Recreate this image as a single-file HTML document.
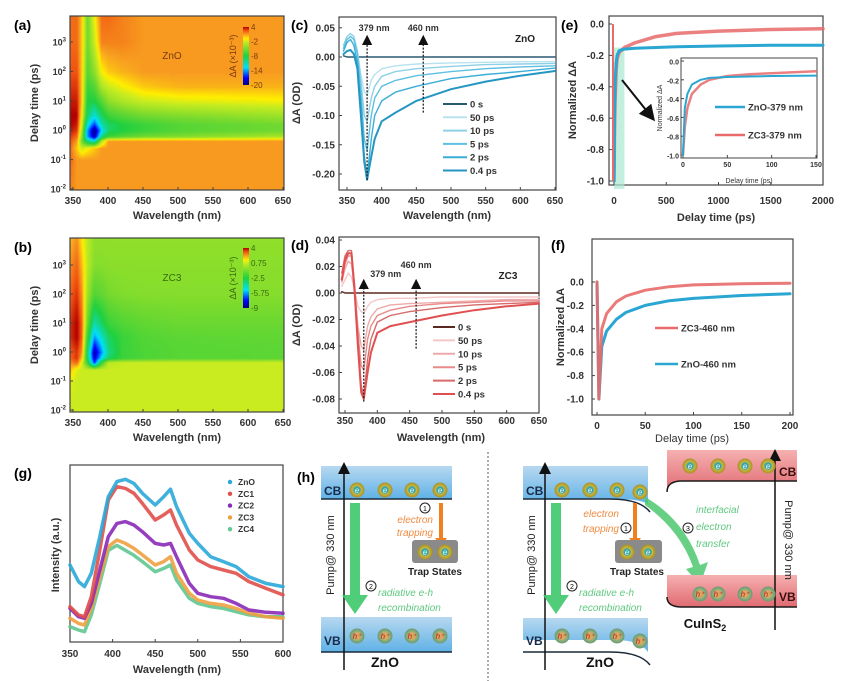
<!DOCTYPE html>
<html><head><meta charset="utf-8">
<style>
html,body{margin:0;padding:0;background:#fff;width:845px;height:681px;overflow:hidden;}
#wrap{position:relative;width:845px;height:681px;}
svg text{font-family:"Liberation Sans",Arial,sans-serif;}
canvas{position:absolute;}
</style></head>
<body>
<div id="wrap">
<canvas id="hmA" style="left:70px;top:16px" width="214" height="174"></canvas>
<canvas id="hmB" style="left:70px;top:238px" width="214" height="174"></canvas>
<svg id="fig" width="845" height="681" style="position:absolute;left:0;top:0" xmlns="http://www.w3.org/2000/svg">
<defs>
<linearGradient id="cbar" x1="0" y1="1" x2="0" y2="0">
<stop offset="0" stop-color="#000080"/><stop offset="0.12" stop-color="#0000ff"/><stop offset="0.3" stop-color="#00e0ff"/><stop offset="0.5" stop-color="#20d040"/><stop offset="0.75" stop-color="#c8ec20"/><stop offset="0.8" stop-color="#ffee00"/><stop offset="0.87" stop-color="#f8a020"/><stop offset="0.94" stop-color="#f05010"/><stop offset="1" stop-color="#b00000"/>
</linearGradient>
<linearGradient id="znoBand" x1="0" y1="0" x2="0" y2="1"><stop offset="0" stop-color="#b7d8f0"/><stop offset="1" stop-color="#5fb2e6"/></linearGradient>
<linearGradient id="cisBand" x1="0" y1="0" x2="0" y2="1"><stop offset="0" stop-color="#f6b0b0"/><stop offset="1" stop-color="#e06a72"/></linearGradient>
<radialGradient id="eBall"><stop offset="0.45" stop-color="#3aa8a8"/><stop offset="0.55" stop-color="#c8b840"/><stop offset="1" stop-color="#a89028"/></radialGradient>
<radialGradient id="hBall"><stop offset="0.45" stop-color="#d8a860"/><stop offset="0.6" stop-color="#90b080"/><stop offset="1" stop-color="#6a9a70"/></radialGradient>
<marker id="ah" markerWidth="8" markerHeight="8" refX="4" refY="4" orient="auto"><path d="M0,0 L8,4 L0,8 z" fill="#111"/></marker>
</defs>
<g id="layer"></g>

<!-- static text -->
<text x="14" y="30" font-size="14" font-weight="bold">(a)</text>
<text x="14" y="252" font-size="14" font-weight="bold">(b)</text>
<text x="291" y="30" font-size="14" font-weight="bold">(c)</text>
<text x="291" y="250" font-size="14" font-weight="bold">(d)</text>
<text x="561" y="30" font-size="14" font-weight="bold">(e)</text>
<text x="551" y="250" font-size="14" font-weight="bold">(f)</text>
<text x="14" y="478" font-size="14" font-weight="bold">(g)</text>
<text x="297" y="482" font-size="14" font-weight="bold">(h)</text>

<text x="177" y="219" font-size="11" font-weight="bold" text-anchor="middle" fill="#333">Wavelength (nm)</text>
<text x="177" y="441" font-size="11" font-weight="bold" text-anchor="middle" fill="#333">Wavelength (nm)</text>
<text transform="translate(38,103) rotate(-90)" font-size="11" font-weight="bold" text-anchor="middle" fill="#333">Delay time (ps)</text>
<text transform="translate(38,325) rotate(-90)" font-size="11" font-weight="bold" text-anchor="middle" fill="#333">Delay time (ps)</text>
<text x="172" y="59" font-size="10" fill="#7a3a10" text-anchor="middle">ZnO</text>
<text x="172" y="281" font-size="10" fill="#3a6a10" text-anchor="middle">ZC3</text>
<text transform="translate(236,56) rotate(-90)" font-size="9" fill="#7a3a10" text-anchor="middle">ΔA (×10⁻³)</text>
<text transform="translate(236,278) rotate(-90)" font-size="9" fill="#3a6a10" text-anchor="middle">ΔA (×10⁻³)</text>

<text x="447" y="219" font-size="11" font-weight="bold" text-anchor="middle" fill="#333">Wavelength (nm)</text>
<text transform="translate(300,103) rotate(-90)" font-size="11" font-weight="bold" text-anchor="middle" fill="#333">ΔA (OD)</text>
<text x="525" y="42" font-size="10" font-weight="bold" text-anchor="middle" fill="#222">ZnO</text>
<text x="441" y="441" font-size="11" font-weight="bold" text-anchor="middle" fill="#333">Wavelength (nm)</text>
<text transform="translate(300,325) rotate(-90)" font-size="11" font-weight="bold" text-anchor="middle" fill="#333">ΔA (OD)</text>
<text x="508" y="279" font-size="10" font-weight="bold" text-anchor="middle" fill="#222">ZC3</text>

<text x="716" y="221" font-size="11" font-weight="bold" text-anchor="middle" fill="#333">Delay time (ps)</text>
<text transform="translate(576,100) rotate(-90)" font-size="11" font-weight="bold" text-anchor="middle" fill="#333">Normalized ΔA</text>
<text x="749" y="183" font-size="7" text-anchor="middle" fill="#333">Delay time (ps)</text>
<text transform="translate(662,108) rotate(-90)" font-size="7" text-anchor="middle" fill="#333">Normalized ΔA</text>
<text x="692" y="442" font-size="11" text-anchor="middle" fill="#333">Delay time (ps)</text>
<text transform="translate(564,327) rotate(-90)" font-size="11" font-weight="bold" text-anchor="middle" fill="#333">Normalized ΔA</text>

<text x="177" y="673" font-size="11" font-weight="bold" text-anchor="middle" fill="#333">Wavelength (nm)</text>
<text transform="translate(59,555) rotate(-90)" font-size="11" font-weight="bold" text-anchor="middle" fill="#333">Intensity (a.u.)</text>
<line x1="622" y1="80" x2="650" y2="115" stroke="#111" stroke-width="2" marker-end="url(#ah)"/>

<!-- panel h -->
<g id="diagram">
<rect x="321" y="466" width="131" height="33" fill="url(#znoBand)"/>
<line x1="321" y1="499" x2="452" y2="499" stroke="#1a2a3a" stroke-width="1.5"/>
<rect x="321" y="617" width="131" height="35" fill="url(#znoBand)"/>
<line x1="321" y1="652" x2="452" y2="652" stroke="#1a2a3a" stroke-width="1.5"/>
<text x="324" y="495" font-size="12" font-weight="bold" fill="#1a2a4a">CB</text>
<text x="324" y="645" font-size="12" font-weight="bold" fill="#1a2a4a">VB</text>
<line x1="344" y1="670" x2="344" y2="468" stroke="#111" stroke-width="1.5" marker-end="url(#ah)"/>
<text transform="translate(334,555) rotate(-90)" font-size="11" text-anchor="middle" fill="#222">Pump@ 330 nm</text>
<text x="385" y="667" font-size="14" font-weight="bold" text-anchor="middle" fill="#111">ZnO</text>
<path d="M350,503 L360,503 L360,595 L368,595 L355,614 L342,595 L350,595 Z" fill="#3cc86a" opacity="0.9"/>
<path d="M439,503 L443,503 L443,538 L447,538 L441,546 L435,538 L439,538 Z" fill="#f08020"/>
<rect x="412" y="540" width="46" height="23" rx="3" fill="#8a8a8a"/>
<text x="435" y="575" font-size="10" font-weight="bold" text-anchor="middle" fill="#222">Trap States</text>
<circle cx="425" cy="508" r="5" fill="none" stroke="#222" stroke-width="1"/><text x="425" y="511" font-size="7" text-anchor="middle">1</text>
<text x="433" y="523" font-size="10" font-style="italic" text-anchor="end" fill="#f08a40">electron</text>
<text x="433" y="536" font-size="10" font-style="italic" text-anchor="end" fill="#f08a40">trapping</text>
<circle cx="371" cy="586" r="5" fill="none" stroke="#222" stroke-width="1"/><text x="371" y="589" font-size="7" text-anchor="middle">2</text>
<text x="378" y="596" font-size="10" font-style="italic" fill="#60c880">radiative e-h</text>
<text x="378" y="611" font-size="10" font-style="italic" fill="#60c880">recombination</text>

<line x1="488" y1="452" x2="488" y2="681" stroke="#555" stroke-dasharray="2,2"/>

<path d="M523,466 L648,466 L648,504 Q640,499 615,499 L523,499 Z" fill="url(#znoBand)"/>
<path d="M523,499 L610,499 Q640,499 650,512" fill="none" stroke="#1a2a3a" stroke-width="1.5"/>
<path d="M523,618 L648,618 L648,652 Q640,640 615,640 L523,640 Z" fill="url(#znoBand)"/>
<path d="M523,652 L610,652 Q640,652 650,665" fill="none" stroke="#1a2a3a" stroke-width="1.5"/>
<text x="526" y="495" font-size="12" font-weight="bold" fill="#1a2a4a">CB</text>
<text x="526" y="645" font-size="12" font-weight="bold" fill="#1a2a4a">VB</text>
<line x1="545" y1="670" x2="545" y2="468" stroke="#111" stroke-width="1.5" marker-end="url(#ah)"/>
<text transform="translate(535,555) rotate(-90)" font-size="11" text-anchor="middle" fill="#222">Pump@ 330 nm</text>
<text x="600" y="667" font-size="14" font-weight="bold" text-anchor="middle" fill="#111">ZnO</text>
<path d="M551,503 L561,503 L561,595 L569,595 L556,614 L543,595 L551,595 Z" fill="#3cc86a" opacity="0.9"/>
<path d="M633,503 L637,503 L637,538 L641,538 L635,546 L629,538 L633,538 Z" fill="#f08020"/>
<rect x="615" y="540" width="47" height="23" rx="3" fill="#8a8a8a"/>
<text x="637" y="575" font-size="10" font-weight="bold" text-anchor="middle" fill="#222">Trap States</text>
<text x="619" y="517" font-size="10" font-style="italic" text-anchor="end" fill="#f08a40">electron</text>
<text x="619" y="532" font-size="10" font-style="italic" text-anchor="end" fill="#f08a40">trapping</text>
<circle cx="626" cy="528" r="5" fill="none" stroke="#222" stroke-width="1"/><text x="626" y="531" font-size="7" text-anchor="middle">1</text>
<circle cx="572" cy="586" r="5" fill="none" stroke="#222" stroke-width="1"/><text x="572" y="589" font-size="7" text-anchor="middle">2</text>
<text x="579" y="596" font-size="10" font-style="italic" fill="#60c880">radiative e-h</text>
<text x="579" y="611" font-size="10" font-style="italic" fill="#60c880">recombination</text>
<path d="M645,497 Q685,520 700,565 L708,562 L700,585 L686,569 L693,567 Q680,530 645,505 Z" fill="#4cc870" opacity="0.85"/>
<circle cx="688" cy="528" r="5" fill="none" stroke="#222" stroke-width="1"/><text x="688" y="531" font-size="7" text-anchor="middle">3</text>
<text x="696" y="513" font-size="10" font-style="italic" fill="#60c880">interfacial</text>
<text x="696" y="530" font-size="10" font-style="italic" fill="#60c880">electron</text>
<text x="696" y="547" font-size="10" font-style="italic" fill="#60c880">transfer</text>
<path d="M667,450 L797,450 L797,481 L682,481 Q667,481 667,492 Z" fill="url(#cisBand)"/>
<path d="M667,492 Q667,481 682,481 L797,481" fill="none" stroke="#1a1a1a" stroke-width="1.5"/>
<path d="M667,575 L797,575 L797,607 L682,607 Q667,607 667,597 Z" fill="url(#cisBand)"/>
<path d="M667,597 Q667,607 682,607 L797,607" fill="none" stroke="#1a1a1a" stroke-width="1.5"/>
<text x="779" y="476" font-size="12" font-weight="bold" fill="#3a1010">CB</text>
<text x="779" y="601" font-size="12" font-weight="bold" fill="#3a1010">VB</text>
<line x1="775" y1="630" x2="775" y2="455" stroke="#111" stroke-width="1.5" marker-end="url(#ah)"/>
<text transform="translate(785,540) rotate(90)" font-size="11" text-anchor="middle" fill="#222">Pump@ 330 nm</text>
<text x="705" y="628" font-size="13" font-weight="bold" text-anchor="middle" fill="#111">CuInS<tspan font-size="9" dy="3">2</tspan></text>
</g>
</svg>
</div>
<script>
// ---------------- DATA ----------------
// Heatmap (a) ZnO: value grid (ΔA ×10^-3), columns = wavelengths, rows = log10(delay)
const hmWl = [345,355,362,370,380,390,400,420,450,500,650];
const hmA_logT = [3.9,3,2,1.5,1,0.5,0.2,0,-0.2,-0.35,-0.6,-1,-2];
const hmA_vals = [
 [2,2,0,-5,-1,2,2,1.5,1,1,1],
 [2,2,0,-5,-2,1.5,1.5,1.5,1,1,1],
 [2.5,2.5,0,-6,-4,-1,0,0.5,1,1,1],
 [3,3,0,-7,-6,-3,-2,-1,0,0.5,0.5],
 [3.5,3.5,0,-8,-8,-6,-4,-3,-2,-1.5,-1],
 [4,4,-1,-9,-12,-9,-7,-6,-5,-4.5,-3.5],
 [4,3.5,-2,-12,-16,-11,-9,-8,-7,-6,-5],
 [3.5,3,-3,-14,-20,-13,-9,-8,-7,-6,-5],
 [3,2,-4,-14,-19,-10,-7,-6,-5,-4.5,-3],
 [2.5,1,-5,-10,-12,-3,1,1,1,1,1],
 [2,0,-2,-1,0,1,1,1,1,1,1],
 [2,1,1,1,1,1,1,1,1,1,1],
 [1.5,1,1,1,1,1,1,1,1,1,1]];
const hmA_range = [-20,4];
// Heatmap (b) ZC3
const hmB_logT = [3.9,3,2,1,0.5,0,-0.2,-0.35,-0.6,-1,-2];
const hmB_vals = [
 [2,2.5,1.5,0.5,-0.3,-0.3,-0.3,-0.3,-0.3,-0.3,-0.3],
 [2.5,3,2,0.5,-0.5,-0.5,-0.4,-0.4,-0.4,-0.4,-0.4],
 [3,3.5,2.5,0,-1.5,-1.2,-0.8,-0.6,-0.5,-0.5,-0.5],
 [3.5,4,3,-1,-4,-3,-2,-1.5,-1.2,-1,-1],
 [3.5,4,3,-2,-6,-4.5,-3,-2,-1.5,-1.3,-1.2],
 [3,3.5,2.5,-3,-8.5,-6,-3.5,-2,-1.6,-1.4,-1.3],
 [3,3.5,2,-3,-8,-5,-3,-2,-1.6,-1.4,-1.3],
 [2.5,3,1,-2,-7,-2,0.5,0.75,0.75,0.75,0.75],
 [2,1,0.75,0.75,0.75,0.75,0.75,0.75,0.75,0.75,0.75],
 [1,0.75,0.75,0.75,0.75,0.75,0.75,0.75,0.75,0.75,0.75],
 [0.75,0.75,0.75,0.75,0.75,0.75,0.75,0.75,0.75,0.75,0.75]];
const hmB_range = [-9,4];
const cbarA_labels = ["4","-2","-8","-14","-20"];
const cbarB_labels = ["4","0.75","-2.5","-5.75","-9"];

// Panel (c) ZnO spectra
const specWl = [345,350,355,360,365,370,375,379,385,390,400,420,450,500,550,600,650];
const specDelays = ["0 s","50 ps","10 ps","5 ps","2 ps","0.4 ps"];
const cVals = [
 [0.002,0,0,0,0,0,0,0,0,0,0,0,0,0,0,0,0],
 [0.015,0.03,0.035,0.03,0.01,-0.03,-0.06,-0.065,-0.04,-0.03,-0.02,-0.015,-0.012,-0.01,-0.009,-0.008,-0.008],
 [0.02,0.035,0.04,0.035,0.01,-0.04,-0.10,-0.11,-0.07,-0.05,-0.033,-0.025,-0.02,-0.016,-0.013,-0.012,-0.011],
 [0.015,0.03,0.035,0.03,0.005,-0.06,-0.14,-0.16,-0.10,-0.07,-0.05,-0.04,-0.032,-0.025,-0.02,-0.017,-0.015],
 [0.01,0.025,0.03,0.02,-0.01,-0.08,-0.17,-0.205,-0.14,-0.10,-0.075,-0.06,-0.05,-0.037,-0.03,-0.025,-0.019],
 [0.005,0.01,0.012,0.005,-0.02,-0.10,-0.18,-0.21,-0.17,-0.14,-0.11,-0.095,-0.075,-0.055,-0.042,-0.032,-0.024]];
const cTicks = [0.05,0,-0.05,-0.10,-0.15,-0.20];
const cTickLabels = ["0.05","0.00","-0.05","-0.10","-0.15","-0.20"];
// Panel (d) ZC3 spectra
const dVals = [
 [0.001,0,0,0,0,0,0,0,0,0,0,0,0,0,0,0,0],
 [0.005,0.01,0.015,0.012,0.002,-0.01,-0.014,-0.015,-0.01,-0.007,-0.005,-0.004,-0.004,-0.003,-0.003,-0.003,-0.003],
 [0.008,0.018,0.024,0.022,0.003,-0.025,-0.04,-0.043,-0.025,-0.018,-0.012,-0.009,-0.008,-0.007,-0.006,-0.005,-0.005],
 [0.01,0.022,0.028,0.028,0.005,-0.03,-0.055,-0.058,-0.035,-0.025,-0.017,-0.013,-0.010,-0.008,-0.007,-0.006,-0.006],
 [0.015,0.028,0.032,0.032,0.005,-0.035,-0.07,-0.078,-0.05,-0.035,-0.022,-0.017,-0.014,-0.011,-0.009,-0.008,-0.007],
 [0.01,0.025,0.03,0.03,0.0,-0.04,-0.075,-0.08,-0.06,-0.045,-0.03,-0.025,-0.022,-0.017,-0.013,-0.01,-0.008]];
const dTicks = [0.04,0.02,0,-0.02,-0.04,-0.06,-0.08];
const dTickLabels = ["0.04","0.02","0.00","-0.02","-0.04","-0.06","-0.08"];
const wlTicks = [350,400,450,500,550,600,650];

// Panel (e) kinetics at 379 nm
const eTime = [0,5,10,20,30,50,100,200,400,600,1000,1500,2000];
const eZnO = [-1,-0.6,-0.4,-0.25,-0.2,-0.17,-0.16,-0.155,-0.15,-0.145,-0.14,-0.135,-0.135];
const eZC3 = [-1,-0.7,-0.5,-0.3,-0.22,-0.18,-0.15,-0.12,-0.08,-0.06,-0.045,-0.035,-0.03];
const eXTicks = [0,500,1000,1500,2000];
const normTicks = [0,-0.2,-0.4,-0.6,-0.8,-1.0];
const normTickLabels = ["0.0","-0.2","-0.4","-0.6","-0.8","-1.0"];
const insTime = [0,2,5,10,20,30,50,75,100,150];
const insZnO = [-1,-0.5,-0.35,-0.25,-0.2,-0.18,-0.17,-0.165,-0.16,-0.155];
const insZC3 = [-1,-0.7,-0.5,-0.35,-0.25,-0.2,-0.16,-0.14,-0.13,-0.11];
const insXTicks = [0,50,100,150];
// Panel (f) kinetics at 460 nm
const fTime = [0,2,5,10,20,30,50,75,100,150,200];
const fZC3 = [0,-1,-0.4,-0.27,-0.17,-0.12,-0.07,-0.04,-0.025,-0.015,-0.01];
const fZnO = [0,-1,-0.55,-0.42,-0.32,-0.26,-0.2,-0.16,-0.14,-0.115,-0.1];
const fXTicks = [0,50,100,150,200];

// Panel (g) PL spectra
const plWl = [350,360,367,375,385,395,405,415,425,435,450,460,468,475,490,500,515,530,545,560,580,600];
const plNames = ["ZnO","ZC1","ZC2","ZC3","ZC4"];
const plZnO = [43.5,34.1,31.3,38.8,59.5,82.1,90.6,91.9,89.6,84.0,77.4,82.1,86.3,76.5,61.4,55.7,48.2,45.4,42.6,36.9,33.1,31.3];
const plZC1 = [20.0,15.3,14.3,25.6,52.0,80.2,87.8,86.8,84.0,78.3,68.9,71.8,74.6,66.1,52.0,46.3,42.6,40.7,38.8,34.1,30.3,26.6];
const plZC2 = [19.0,14.3,13.4,21.8,40.7,59.5,67.0,68.0,66.1,62.3,55.7,54.8,55.7,48.2,33.1,27.5,25.6,24.7,21.8,18.1,16.8,16.2];
const plZC3 = [13.4,10.5,9.6,19.0,36.9,53.9,57.6,55.7,52.9,49.2,43.5,45.4,48.2,38.8,27.5,23.7,21.8,20.9,19.0,16.2,14.3,13.4];
const plZC4 = [8.7,6.8,5.8,15.3,33.1,51.8,54.6,51.8,49.0,45.4,39.7,41.6,43.5,35.0,24.7,21.8,20.0,19.0,17.1,15.3,14.3,14.3];
const plXTicks = [350,400,450,500,550,600];

// ---------------- RENDER ----------------
const NS = "http://www.w3.org/2000/svg";
const layer = document.getElementById('layer');
function mk(tag, parent){ const e=document.createElementNS(NS,tag); parent.appendChild(e); return e; }
function lin(d0,d1,r0,r1){ return v => r0+(v-d0)*(r1-r0)/(d1-d0); }

// colormap
const cmStops=[[0,[0,0,128]],[0.12,[0,0,255]],[0.3,[0,224,255]],[0.5,[32,208,64]],[0.62,[110,216,48]],[0.75,[200,236,32]],[0.8,[255,238,0]],[0.87,[248,160,32]],[0.94,[240,80,16]],[1,[176,0,0]]];
function cmap(t){ t=Math.max(0,Math.min(1,t)); for(let i=1;i<cmStops.length;i++){ if(t<=cmStops[i][0]){ const a=cmStops[i-1],b=cmStops[i]; const f=(t-a[0])/(b[0]-a[0]); return a[1].map((c,k)=>Math.round(c+(b[1][k]-c)*f)); } } return cmStops[cmStops.length-1][1]; }
function interp1(arr, v){ // arr ascending or descending; returns [i, f]
  const asc = arr[arr.length-1]>arr[0];
  for(let i=0;i<arr.length-1;i++){ const a=arr[i],b=arr[i+1]; if((asc&&v>=a&&v<=b)||(!asc&&v<=a&&v>=b)) return [i,(v-a)/(b-a)]; }
  return asc? (v<arr[0]?[0,0]:[arr.length-2,1]) : (v>arr[0]?[0,0]:[arr.length-2,1]);
}
function drawHeat(id, logT, vals, range, yOfLog){
  const cv=document.getElementById(id), ctx=cv.getContext('2d');
  const W=cv.width,H=cv.height, img=ctx.createImageData(W,H);
  const xs = lin(345.7,651,0,W); // pixel -> wl inverse below
  for(let py=0;py<H;py++){
    const lt = yOfLog(py);
    const [ri,rf]=interp1(logT,lt);
    for(let px=0;px<W;px++){
      const wl = 345.7 + px*(651-345.7)/W;
      const [ci,cf]=interp1(hmWl,wl);
      const v00=vals[ri][ci],v01=vals[ri][ci+1],v10=vals[ri+1][ci],v11=vals[ri+1][ci+1];
      const v=(v00*(1-cf)+v01*cf)*(1-rf)+(v10*(1-cf)+v11*cf)*rf;
      const c=cmap((v-range[0])/(range[1]-range[0]));
      const k=(py*W+px)*4; img.data[k]=c[0];img.data[k+1]=c[1];img.data[k+2]=c[2];img.data[k+3]=255;
    }
  }
  ctx.putImageData(img,0,0);
}
// (a): canvas top 16, 10^-2 at y=189, 29.4 px/decade
drawHeat('hmA', hmA_logT, hmA_vals, hmA_range, py => (189-(16+py))/29.4 - 2);
drawHeat('hmB', hmB_logT, hmB_vals, hmB_range, py => (410-(238+py))/29 - 2);

function frame(x,y,w,h,name){ const r=mk('rect',layer); r.setAttribute('x',x);r.setAttribute('y',y);r.setAttribute('width',w);r.setAttribute('height',h);r.setAttribute('fill','none');r.setAttribute('stroke','#444');r.setAttribute('stroke-width','1.2');
 
  return r; }
function tickText(x,y,s,anchor,size,name){ const t=mk('text',layer); t.setAttribute('x',x);t.setAttribute('y',y);t.setAttribute('font-size',size||10);t.setAttribute('font-weight','bold');t.setAttribute('fill','#333');t.setAttribute('text-anchor',anchor||'middle'); t.textContent=s;
 
  return t; }
function tickLine(x1,y1,x2,y2){ const l=mk('line',layer); l.setAttribute('x1',x1);l.setAttribute('y1',y1);l.setAttribute('x2',x2);l.setAttribute('y2',y2);l.setAttribute('stroke','#444');
 
  }
function xAxis(ticks,labels,sx,yb,ly,size,name){ ticks.forEach((v,i)=>{ tickLine(sx(v),yb,sx(v),yb-3); tickText(sx(v),ly,labels?labels[i]:String(v),'middle',size,name+'-tick-label'); }); }
function yAxis(ticks,labels,sy,xl,lx,size,name){ ticks.forEach((v,i)=>{ tickLine(xl,sy(v),xl+3,sy(v)); tickText(lx,sy(v)+3.5,labels?labels[i]:String(v),'end',size,name+'-tick-label'); }); }
function poly(xs,ys,sx,sy,color,w,name,extra){ const p=mk('polyline',layer); p.setAttribute('points',xs.map((x,i)=>sx(x).toFixed(1)+','+sy(ys[i]).toFixed(1)).join(' ')); p.setAttribute('fill','none');p.setAttribute('stroke',color);p.setAttribute('stroke-width',w);p.setAttribute('stroke-linejoin','round');p.setAttribute('stroke-linecap','round'); if(extra) p.setAttribute('opacity',extra);
 
  return p; }

// ---- heatmap axes
[[16,190,v=>189-(v+2)*29.4,'a'],[238,412,v=>410-(v+2)*29,'b']].forEach(([top,bot,sy,n])=>{
  frame(70,top,214,bot-top,'heatmap-frame-'+n);
  const sx=lin(350,650,73,283);
  xAxis(wlTicks,null,sx,bot,bot+14,10,'x-axis-'+n);
  [-2,-1,0,1,2,3].forEach(k=>{ tickLine(70,sy(k),73,sy(k)); const t=tickText(66,sy(k)+3.5,'10','end',9,'y-axis-'+n+'-tick-label'); const s=mk('tspan',t); s.setAttribute('dy','-4'); s.setAttribute('font-size','6'); s.textContent=String(k); });
});
// colorbars
[[27,85,cbarA_labels,'a','#7a3a10'],[248,308,cbarB_labels,'b','#3a6a10']].forEach(([y0,y1,labs,n,col])=>{
  const r=mk('rect',layer); r.setAttribute('x',243);r.setAttribute('y',y0);r.setAttribute('width',6);r.setAttribute('height',y1-y0);r.setAttribute('fill','url(#cbar)');
  
  
  labs.forEach((s,i)=>{ const y=y0+i*(y1-y0)/(labs.length-1); const t=tickText(251,y+3,s,'start',8,'colorbar-'+n+'-label'); t.setAttribute('font-weight','normal'); t.setAttribute('fill',col); });
});

// ---- (c)
(function(){
  const sx=lin(350,650,347,555), sy=lin(0,-0.2,57,174);
  frame(339,17,217,173,'plot-frame-c');
  xAxis(wlTicks,null,sx,190,204,10,'x-axis-c');
  yAxis(cTicks,cTickLabels,sy,339,335,10,'y-axis-c');
  const cols=["#2a5a70","#b8e2ee","#8ed0e6","#5ebfe0","#3aaed6","#2596c2"];
  cVals.forEach((vals,i)=>poly(specWl,vals,sx,sy,cols[i],i===5?2:1.4,'series-c-'+specDelays[i].replace(/[ .]/g,'')));
  [[379,-0.21],[460,-0.095]].forEach(([wl,lo],i)=>{ const l=mk('line',layer); l.setAttribute('x1',sx(wl));l.setAttribute('x2',sx(wl));l.setAttribute('y1',sy(lo));l.setAttribute('y2',40);l.setAttribute('stroke','#222');l.setAttribute('stroke-width','1.3');l.setAttribute('stroke-dasharray','2,1.5');l.setAttribute('marker-end','url(#ah)');
    
    
    tickText(sx(wl)+(i?0:7),31,wl+' nm','middle',9,'marker-label-c'); });
  specDelays.forEach((s,i)=>{ const y=104+i*13.3; const l=mk('line',layer); l.setAttribute('x1',443);l.setAttribute('x2',467);l.setAttribute('y1',y);l.setAttribute('y2',y);l.setAttribute('stroke',cols[i]);l.setAttribute('stroke-width',2);
    
    
    tickText(470,y+3.5,s,'start',9.5,'legend-entry-c'); });
})();
// ---- (d)
(function(){
  const sx=lin(350,650,345,539), sy=lin(0,-0.08,293,399);
  frame(339,237,200,176,'plot-frame-d');
  xAxis(wlTicks,null,sx,413,424,10,'x-axis-d');
  yAxis(dTicks,dTickLabels,sy,339,335,10,'y-axis-d');
  const cols=["#5a2a20","#f4c8c8","#eeaaaa","#e88a8a","#d86a6a","#e05050"];
  dVals.forEach((vals,i)=>poly(specWl,vals,sx,sy,cols[i],i===5?2:1.4,'series-d-'+specDelays[i].replace(/[ .]/g,'')));
  [[379,-0.082],[460,-0.042]].forEach(([wl,lo],i)=>{ const l=mk('line',layer); l.setAttribute('x1',sx(wl));l.setAttribute('x2',sx(wl));l.setAttribute('y1',sy(lo));l.setAttribute('y2',284);l.setAttribute('stroke','#222');l.setAttribute('stroke-width','1.3');l.setAttribute('stroke-dasharray','2,1.5');l.setAttribute('marker-end','url(#ah)');
    
    
    tickText(sx(wl)+(i?0:22),i?268:277,wl+' nm','middle',9,'marker-label-d'); });
  specDelays.forEach((s,i)=>{ const y=327+i*13.4; const l=mk('line',layer); l.setAttribute('x1',433);l.setAttribute('x2',455);l.setAttribute('y1',y);l.setAttribute('y2',y);l.setAttribute('stroke',cols[i]);l.setAttribute('stroke-width',2);
    
    
    tickText(458,y+3.5,s,'start',9.5,'legend-entry-d'); });
})();
// ---- (e)
(function(){
  const sx=lin(0,2000,614,823), sy=lin(0,-1,24,181);
  frame(609,16,214,169,'plot-frame-e');
  const sh=mk('rect',layer); sh.setAttribute('x',sx(0));sh.setAttribute('y',sy(-0.15));sh.setAttribute('width',sx(100)-sx(0));sh.setAttribute('height',sy(-1.05)-sy(-0.15));sh.setAttribute('fill','#a8e8d0');sh.setAttribute('opacity','0.7');
  
  
  xAxis(eXTicks,null,sx,185,204,10,'x-axis-e');
  yAxis(normTicks,normTickLabels,sy,609,604,10,'y-axis-e');
  poly(eTime,eZC3,sx,sy,'#e86a6a',3.5,'series-e-zc3',0.85);
  poly(eTime,eZnO,sx,sy,'#2aa6d2',3,'series-e-zno');
  const sp=mk('line',layer); sp.setAttribute('x1',sx(0)-1);sp.setAttribute('x2',sx(0)-1);sp.setAttribute('y1',sy(0));sp.setAttribute('y2',sy(-1));sp.setAttribute('stroke','#e86a6a');sp.setAttribute('stroke-width',2);
  
  
  // inset
  const ix=lin(0,150,683,816), iy=lin(0,-1,61,155);
  const bg=mk('rect',layer); bg.setAttribute('x',681);bg.setAttribute('y',58);bg.setAttribute('width',136);bg.setAttribute('height',100);bg.setAttribute('fill','#fff');bg.setAttribute('stroke','#444');
  
  
  xAxis(insXTicks,null,ix,158,167,7,'inset-x-axis');
  yAxis(normTicks,normTickLabels,iy,681,679,7,'inset-y-axis');
  poly(insTime,insZC3,ix,iy,'#e86a6a',2.5,'inset-series-zc3',0.85);
  poly(insTime,insZnO,ix,iy,'#2aa6d2',2,'inset-series-zno');
  [['ZnO-379 nm','#2aa6d2',107],['ZC3-379 nm','#e86a6a',135]].forEach(([s,c,y])=>{ const l=mk('line',layer); l.setAttribute('x1',715);l.setAttribute('x2',745);l.setAttribute('y1',y);l.setAttribute('y2',y);l.setAttribute('stroke',c);l.setAttribute('stroke-width',2.5);
    
    
    tickText(748,y+3.5,s,'start',9.5,'legend-entry-e'); });
})();
// ---- (f)
(function(){
  const sx=lin(0,200,597,790), sy=lin(0,-1,282,399);
  frame(592,239,201,176,'plot-frame-f');
  xAxis(fXTicks,null,sx,415,429,10,'x-axis-f');
  yAxis(normTicks,normTickLabels,sy,592,584,10,'y-axis-f');
  poly(fTime,fZnO,sx,sy,'#2aa6d2',3,'series-f-zno');
  poly(fTime,fZC3,sx,sy,'#e86a6a',3,'series-f-zc3',0.9);
  [['ZC3-460 nm','#e86a6a',328],['ZnO-460 nm','#2aa6d2',364]].forEach(([s,c,y])=>{ const l=mk('line',layer); l.setAttribute('x1',655);l.setAttribute('x2',678);l.setAttribute('y1',y);l.setAttribute('y2',y);l.setAttribute('stroke',c);l.setAttribute('stroke-width',2.5);
    
    
    tickText(681,y+3.5,s,'start',9.5,'legend-entry-f'); });
})();
// ---- (g)
(function(){
  const sx=lin(350,600,70,283), sy=lin(0,100,642,465);
  frame(70,465,213,177,'plot-frame-g');
  xAxis(plXTicks,null,sx,642,657,10,'x-axis-g');
  const cols=["#2aa8d8","#e0504a","#8a2ab8","#f0a040","#60c890"];
  const series=[plZnO,plZC1,plZC2,plZC3,plZC4];
  for(let i=series.length-1;i>=0;i--) poly(plWl,series[i],sx,sy,cols[i],3.5,'series-g-'+plNames[i].toLowerCase(),0.9);
  plNames.forEach((s,i)=>{ const y=482+i*11.8; const c=mk('circle',layer); c.setAttribute('cx',230);c.setAttribute('cy',y);c.setAttribute('r',2.2);c.setAttribute('fill',cols[i]);
    
    
    tickText(238,y+3,s,'start',8.5,'legend-entry-g'); });
})();
// ---- (h) carriers
(function(){
  const g=document.getElementById('diagram');
  const elec=[[357,490],[385,490],[412,490],[440,490],[562,490],[590,490],[617,490],[640,492],[425,552],[445,552],[627,552],[648,552],[690,466],[718,466],[745,466],[768,466]];
  const holes=[[357,636],[385,636],[412,636],[440,636],[562,636],[590,636],[617,636],[640,641],[700,594],[718,594],[745,594],[768,594]];
  elec.forEach(([x,y])=>{ const c=mk('circle',g); c.setAttribute('cx',x);c.setAttribute('cy',y);c.setAttribute('r',7.5);c.setAttribute('fill','url(#eBall)');
    
    
    const t=mk('text',g); t.setAttribute('x',x);t.setAttribute('y',y+3);t.setAttribute('font-size','8');t.setAttribute('font-style','italic');t.setAttribute('text-anchor','middle');t.setAttribute('fill','#e8f0f0');t.textContent='e';
    
     });
  holes.forEach(([x,y])=>{ const c=mk('circle',g); c.setAttribute('cx',x);c.setAttribute('cy',y);c.setAttribute('r',7.5);c.setAttribute('fill','url(#hBall)');
    
    
    const t=mk('text',g); t.setAttribute('x',x);t.setAttribute('y',y+3);t.setAttribute('font-size','8');t.setAttribute('font-style','italic');t.setAttribute('text-anchor','middle');t.setAttribute('fill','#c02020');t.textContent='h⁺';
    
     });
})();
</script>
</body></html>
